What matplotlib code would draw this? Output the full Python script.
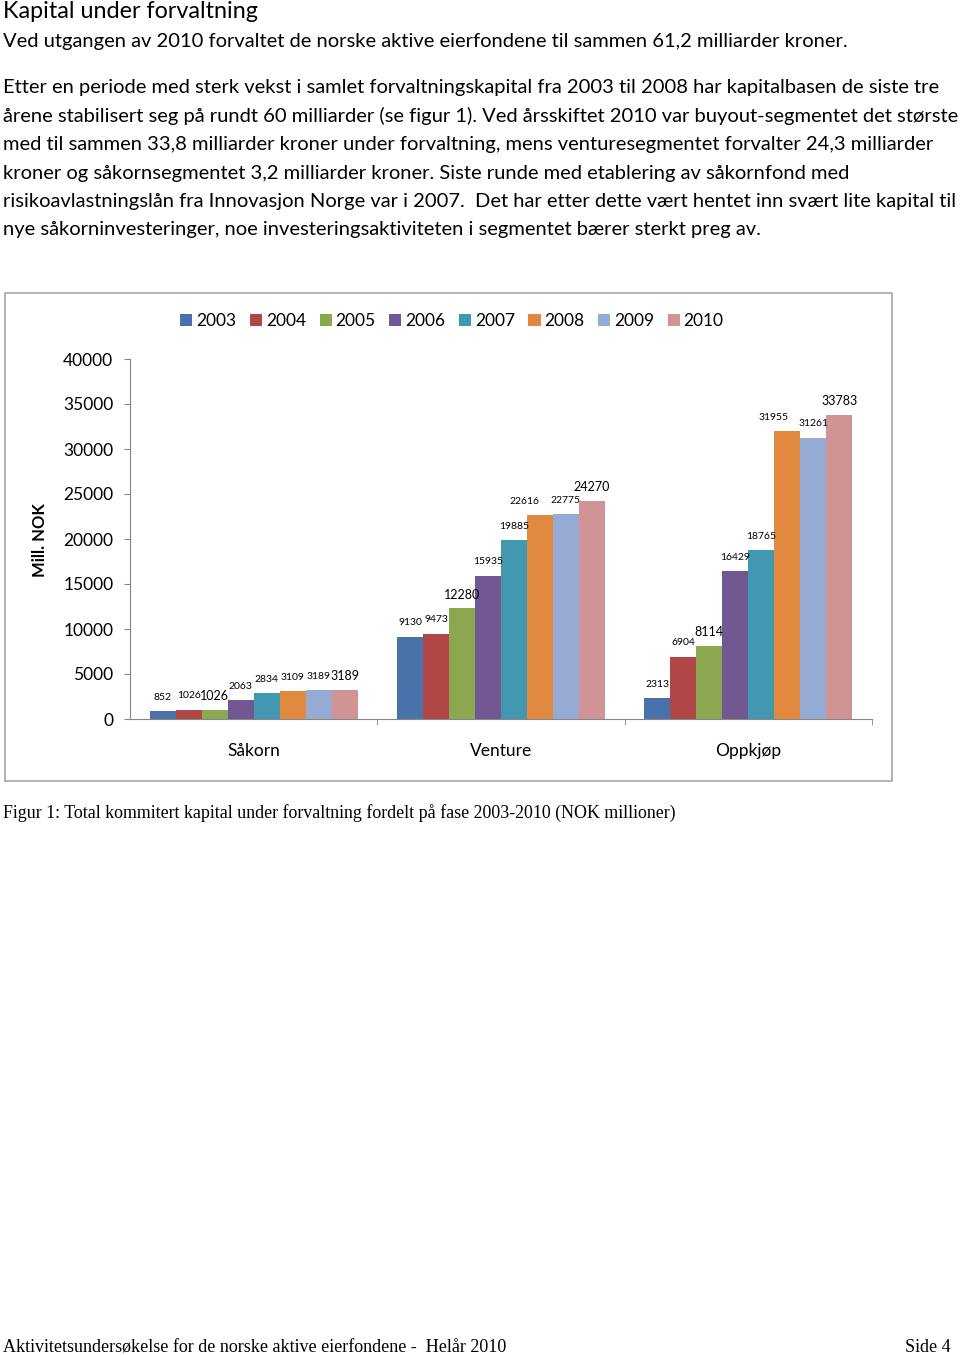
import matplotlib
matplotlib.use("Agg")
import matplotlib.pyplot as plt
import numpy as np
from matplotlib.patches import Rectangle

# data (NOK millioner)
categories = ["Såkorn", "Venture", "Oppkjøp"]
years = ["2003", "2004", "2005", "2006", "2007", "2008", "2009", "2010"]
values = {
    "2003": [852, 9130, 2313],
    "2004": [1026, 9473, 6904],
    "2005": [1026, 12280, 8114],
    "2006": [2063, 15935, 16429],
    "2007": [2834, 19885, 18765],
    "2008": [3109, 22616, 31955],
    "2009": [3189, 22775, 31261],
    "2010": [3189, 24270, 33783],
}
colors = ["#4a72aa", "#b04646", "#8ba74f", "#725892", "#4398b1",
          "#e0893f", "#95abd4", "#d09494"]

# some labels are drawn larger / nudged in the original
big_labels = {(2, 0), (2, 1), (7, 0), (7, 2), (2, 2), (7, 1)}
nudge_x = {(5, 1): -11, (5, 2): -10}

body_font = "Lato"
serif_font = "Liberation Serif"

fig = plt.figure(figsize=(9.6, 13.55), dpi=100)
W, H = 960, 1355


def fx(px):
    return px / W


def fy(py):
    return 1 - py / H


# page text
fig.text(fx(3), fy(12), "Kapital under forvaltning", fontsize=16.8, family=body_font,
         va="center", ha="left")
fig.text(fx(3), fy(41), "Ved utgangen av 2010 forvaltet de norske aktive eierfondene til sammen 61,2 milliarder kroner.",
         fontsize=14.5, family=body_font, va="center", ha="left")
para = [
    "Etter en periode med sterk vekst i samlet forvaltningskapital fra 2003 til 2008 har kapitalbasen de siste tre",
    "årene stabilisert seg på rundt 60 milliarder (se figur 1). Ved årsskiftet 2010 var buyout-segmentet det største",
    "med til sammen 33,8 milliarder kroner under forvaltning, mens venturesegmentet forvalter 24,3 milliarder",
    "kroner og såkornsegmentet 3,2 milliarder kroner. Siste runde med etablering av såkornfond med",
    "risikoavlastningslån fra Innovasjon Norge var i 2007.  Det har etter dette vært hentet inn svært lite kapital til",
    "nye såkorninvesteringer, noe investeringsaktiviteten i segmentet bærer sterkt preg av.",
]
for i, line in enumerate(para):
    fig.text(fx(3), fy(88 + i * 28.4), line, fontsize=14.5, family=body_font,
             va="center", ha="left")

fig.text(fx(3), fy(813), "Figur 1: Total kommitert kapital under forvaltning fordelt på fase 2003-2010 (NOK millioner)",
         fontsize=12.9, family=serif_font, va="center", ha="left")
fig.text(fx(3), fy(1348), "Aktivitetsundersøkelse for de norske aktive eierfondene -  Helår 2010",
         fontsize=13, family=serif_font, va="center", ha="left")
fig.text(fx(951), fy(1348), "Side 4", fontsize=13, family=serif_font,
         va="center", ha="right")

# chart frame
fig.patches.append(Rectangle((fx(5), fy(781)), fx(892 - 5), (781 - 293) / H,
                             transform=fig.transFigure, fill=False,
                             edgecolor="#a6a6a6", linewidth=1.2))

ax = fig.add_axes([fx(130), fy(719), fx(872 - 130), (719 - 359) / H])

x = np.arange(len(categories))
bw = 0.105
n = len(years)
for i, yr in enumerate(years):
    pos = x - bw * n / 2 + bw * (i + 0.5)
    ax.bar(pos, values[yr], width=bw, color=colors[i], label=yr, linewidth=0)
    for j, v in enumerate(values[yr]):
        big = (i, j) in big_labels
        ax.annotate(str(v), (pos[j], v), xytext=(nudge_x.get((i, j), 0), 10),
                    textcoords="offset points", ha="center", va="center",
                    fontsize=9 if big else 7.5, family=body_font)

ax.set_xlim(-0.5, 2.5)
ax.set_ylim(0, 40000)
ax.set_yticks(np.arange(0, 40001, 5000))
ax.tick_params(axis="y", length=4, pad=8, labelsize=12.5, color="#868686")
for lab in ax.get_yticklabels():
    lab.set_family(body_font)

ax.set_xticks(x)
ax.set_xticklabels(categories, family=body_font, fontsize=12.5)
ax.tick_params(axis="x", length=0, pad=17)
ax.set_xticks([0.5, 1.5, 2.5], minor=True)
ax.tick_params(axis="x", which="minor", length=4, color="#868686")

for s in ["top", "right"]:
    ax.spines[s].set_visible(False)
for s in ["left", "bottom"]:
    ax.spines[s].set_color("#868686")

fig.text(fx(40), fy(540), "Mill. NOK", rotation=90, fontsize=12, fontweight="bold",
         family=body_font, ha="center", va="center")

fig.legend(loc="center", bbox_to_anchor=(fx(452), fy(321)), ncol=8, frameon=False,
           prop={"family": body_font, "size": 12.5}, handlelength=0.7,
           handleheight=0.7, handletextpad=0.22, columnspacing=0.78)

fig.savefig("out.png", dpi=100)
